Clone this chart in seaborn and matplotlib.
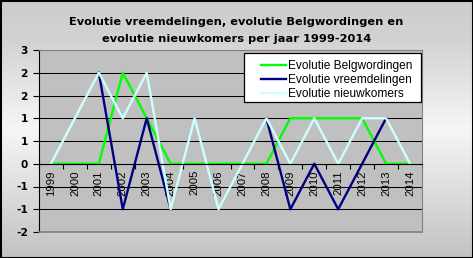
import numpy as np
import pandas as pd
import matplotlib
matplotlib.use("Agg")
import matplotlib.pyplot as plt
import seaborn as sns
from matplotlib.lines import Line2D
from matplotlib.patches import Rectangle
from matplotlib.colors import LinearSegmentedColormap

# ---- data ----
years = [str(y) for y in range(1999, 2015)]
belgwordingen = [0, 0, 0, 2, 1, 0, 0, 0, 0, 0, 1, 1, 1, 1, 0, 0]
vreemdelingen = [np.nan, np.nan, 2, -1, 1, -1, np.nan, np.nan, np.nan, 1, -1, 0, -1, 0, 1, np.nan]
nieuwkomers = [0, 1, 2, 1, 2, -1, 1, -1, 0, 1, 0, 1, 0, 1, 1, 0]
series_names = ["Evolutie Belgwordingen", "Evolutie vreemdelingen", "Evolutie nieuwkomers"]
series_colors = ["#00FF00", "#000080", "#CCFFFF"]
y_ticks = [-1.5, -1.0, -0.5, 0.0, 0.5, 1.0, 1.5, 2.0, 2.5]
y_tick_labels = ["-2", "-1", "-1", "0", "1", "1", "2", "2", "3"]
title_lines = ["Evolutie vreemdelingen, evolutie Belgwordingen en",
               "evolutie nieuwkomers per jaar 1999-2014"]

# ---- long table ----
frames = []
for name, vals in zip(series_names, [belgwordingen, vreemdelingen, nieuwkomers]):
    v = np.array(vals, dtype=float)
    frames.append(pd.DataFrame({
        "pos": np.arange(len(years)),
        "jaar": years,
        "waarde": v,
        "reeks": name,
        "segment": np.cumsum(np.isnan(v)).astype(int),
    }))
df = pd.concat(frames, ignore_index=True)

W, H = 473, 258
fig = plt.figure(figsize=(W / 100, H / 100), dpi=100)

# background gradient
bg = fig.add_axes([0, 0, 1, 1], zorder=-10)
bg.set_axis_off()
cmap = LinearSegmentedColormap.from_list(
    "bg", [(0.0, "#CCCCCC"), (0.15, "#D2D2D2"), (0.5, "#F6F6F6"), (1.0, "#C2C2C2")])
grad = np.linspace(0, 1, 256).reshape(-1, 1)
bg.imshow(grad, aspect="auto", cmap=cmap, extent=[0, 1, 0, 1], origin="upper")
bg.set_xlim(0, 1)
bg.set_ylim(0, 1)

# plot area
px = lambda x0, y0, x1, y1: [x0 / W, 1 - y1 / H, (x1 - x0) / W, (y1 - y0) / H]
ax = fig.add_axes(px(39, 50, 422, 232))
ax.set_facecolor("#C0C0C0")

sns.lineplot(data=df, x="pos", y="waarde", hue="reeks", units="segment",
             estimator=None, hue_order=series_names,
             palette=dict(zip(series_names, series_colors)),
             linewidth=1.7, legend=False, sort=False, ax=ax)

ax.set_xlim(-0.5, len(years) - 0.5)
ax.set_ylim(-1.5, 2.5)
ax.set_xlabel("")
ax.set_ylabel("")

# y axis
ax.set_yticks(y_ticks)
ax.set_yticklabels(y_tick_labels, fontfamily="DejaVu Sans", fontweight="bold", fontsize=7.6)
ax.tick_params(axis="y", direction="out", length=4, width=0.8, color="black", pad=4.0)
ax.yaxis.grid(True, color="black", linewidth=0.75)
ax.set_axisbelow(True)

# x axis at zero
ax.spines["bottom"].set_position(("data", 0))
ax.spines["bottom"].set_color("black")
ax.spines["bottom"].set_linewidth(0.8)
ax.spines["left"].set_color("black")
ax.spines["left"].set_linewidth(0.8)
for s in ["top", "right"]:
    ax.spines[s].set_color("#808080")
    ax.spines[s].set_linewidth(0.8)
ax.axhline(-1.5, color="#808080", linewidth=1.2, clip_on=False, zorder=3)

ax.set_xticks(np.arange(-0.5, len(years), 1.0))
ax.set_xticklabels([])
ax.set_xticks(np.arange(len(years)), minor=True)
ax.set_xticklabels(years, minor=True, rotation=90, fontfamily="Liberation Sans", fontsize=8.2)
ax.tick_params(axis="x", which="major", direction="out", length=3.5, width=0.8, color="black")
ax.tick_params(axis="x", which="minor", length=0, pad=4.5)

# title
for i, line in enumerate(title_lines):
    fig.text(0.5, 1 - (22 + 16.5 * i) / H, line, ha="center", va="center",
             fontfamily="DejaVu Sans", fontweight="bold", fontsize=8.2, color="black")

# legend
fig.patches.append(Rectangle((244 / W, 1 - 102 / H), 177 / W, 49 / H,
                             transform=fig.transFigure, facecolor="white",
                             edgecolor="black", linewidth=0.9, zorder=5))
handles = [Line2D([], [], color=c, linewidth=1.7) for c in series_colors]
leg = fig.legend(handles, series_names, loc="upper left",
                 bbox_to_anchor=(255 / W, 1 - 54.5 / H), bbox_transform=fig.transFigure,
                 frameon=False, borderpad=0, handlelength=2.1, handletextpad=0.15,
                 labelspacing=0.14, prop={"family": "Liberation Sans", "size": 8.6})
leg.set_zorder(6)

# figure border
fig.patches.append(Rectangle((0, 0), 1, 1, transform=fig.transFigure, fill=False,
                             edgecolor="black", linewidth=2.2, zorder=10))

fig.savefig("out.png", dpi=100)
